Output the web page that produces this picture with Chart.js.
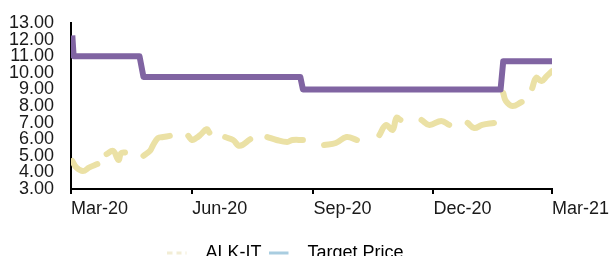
<!DOCTYPE html>
<html>
<head>
<meta charset="utf-8">
<script src="https://cdn.jsdelivr.net/npm/chart.js@4/dist/chart.umd.min.js"></script>
<style>
  html, body { margin: 0; padding: 0; overflow: hidden; background: #fff; }
  #wrap { width: 613px; height: 279px; }
</style>
</head>
<body>
<div id="wrap"><canvas id="myChart" width="613" height="279"></canvas></div>
<script>
// x values are days counted from 1 Mar 2020
const tickDays = [0, 92, 184, 275, 365];
const tickLabels = ['Mar-20', 'Jun-20', 'Sep-20', 'Dec-20', 'Mar-21'];

// ALK-IT share price (null = gap in the drawn line)
const priceDays = [
  1, 4, 9, 14, 20, 21,
  27, 32, 36, 38, 41, 42,
  55, 60, 62, 66, 70, 75, 76,
  89, 92, 95, 98, 103, 105, 106,
  117, 123, 128, 136, 137,
  149, 156, 164, 168, 176, 177,
  192, 201, 209, 217, 218,
  234, 239, 244, 247, 250, 251,
  266, 272, 281, 287, 288,
  301, 306, 312, 321, 322,
  328, 330, 335, 342, 343,
  350, 353, 357, 361, 365
];
const priceValues = [
  4.69, 4.3, 4.08, 4.3, 4.5, null,
  5.1, 5.3, 4.75, 5.15, 5.2, null,
  5.0, 5.3, 5.6, 6.07, 6.13, 6.2, null,
  6.2, 5.95, 6.07, 6.25, 6.6, 6.4, null,
  6.13, 5.95, 5.6, 6.0, null,
  6.13, 5.95, 5.83, 5.95, 5.95, null,
  5.65, 5.77, 6.13, 5.95, null,
  6.25, 6.86, 6.56, 7.28, 7.16, null,
  7.16, 6.86, 7.1, 6.86, null,
  6.98, 6.67, 6.86, 6.98, null,
  8.78, 8.3, 8.0, 8.24, null,
  9.08, 9.7, 9.5, 9.8, 10.1
];

// Target price steps
const targetDays = [1, 2, 52, 55, 174, 176, 326, 328, 365];
const targetValues = [12.25, 11.0, 11.0, 9.75, 9.75, 9.0, 9.0, 10.7, 10.7];

const toPoints = (xs, ys) => xs.map((x, i) => ({ x: x, y: ys[i] }));

// small line sample used as legend marker, with blank space on its right
function lineSample(color, dash) {
  const c = document.createElement('canvas');
  c.width = 29;
  c.height = 4;
  const g = c.getContext('2d');
  g.strokeStyle = color;
  g.lineWidth = 3;
  g.setLineDash(dash);
  g.beginPath();
  g.moveTo(0, 2);
  g.lineTo(19, 2);
  g.stroke();
  return c;
}

Chart.defaults.font.family = 'Liberation Sans, Arial, sans-serif';
Chart.defaults.font.size = 18;
Chart.defaults.color = '#1a1a1a';

const shiftLegend = {
  id: 'shiftLegend',
  afterLayout(chart) {
    chart.legend.left += 9;
    chart.legend.right += 9;
  }
};

const ctx = document.getElementById('myChart');
const myChart = new Chart(ctx, {
  type: 'line',
  data: {
    datasets: [
      {
        label: 'ALK-IT',
        data: toPoints(priceDays, priceValues),
        borderColor: '#EBE1A5',
        borderWidth: 6,
        borderCapStyle: 'round',
        borderJoinStyle: 'round',
        tension: 0.4,
        pointRadius: 0,
        spanGaps: false,
        order: 2
      },
      {
        label: 'Target Price',
        data: toPoints(targetDays, targetValues),
        borderColor: '#8064A2',
        borderWidth: 6,
        borderJoinStyle: 'round',
        tension: 0,
        pointRadius: 0,
        order: 1
      }
    ]
  },
  options: {
    responsive: false,
    animation: false,
    layout: { padding: { left: 0, right: 60, top: 23, bottom: 7 } },
    plugins: {
      tooltip: { enabled: false },
      legend: {
        position: 'bottom',
        labels: {
          usePointStyle: true,
          pointStyleWidth: 29,
          padding: 8,
          generateLabels: () => [
            { text: 'ALK-IT', pointStyle: lineSample('#F2EDD5', [5, 4]), datasetIndex: 0 },
            { text: 'Target Price', pointStyle: lineSample('#A9CDE0', []), datasetIndex: 1 }
          ]
        }
      }
    },
    scales: {
      x: {
        type: 'linear',
        min: 0,
        max: 365,
        afterBuildTicks: s => { s.ticks = tickDays.map(v => ({ value: v })); },
        afterFit: s => { s.height = 47; },
        ticks: {
          autoSkip: false,
          maxRotation: 0,
          align: 'start',
          padding: 4,
          callback: (v) => tickLabels[tickDays.indexOf(v)]
        },
        grid: { drawOnChartArea: false, drawTicks: true, tickLength: 5, color: '#000', lineWidth: 2 },
        border: { color: '#000', width: 2 }
      },
      y: {
        min: 3,
        max: 13,
        afterFit: s => { s.width = 71; },
        ticks: {
          stepSize: 1,
          autoSkip: false,
          padding: 9,
          callback: v => v.toFixed(2)
        },
        grid: { display: false },
        border: { color: '#000', width: 2 }
      }
    }
  },
  plugins: [shiftLegend]
});
</script>
</body>
</html>
